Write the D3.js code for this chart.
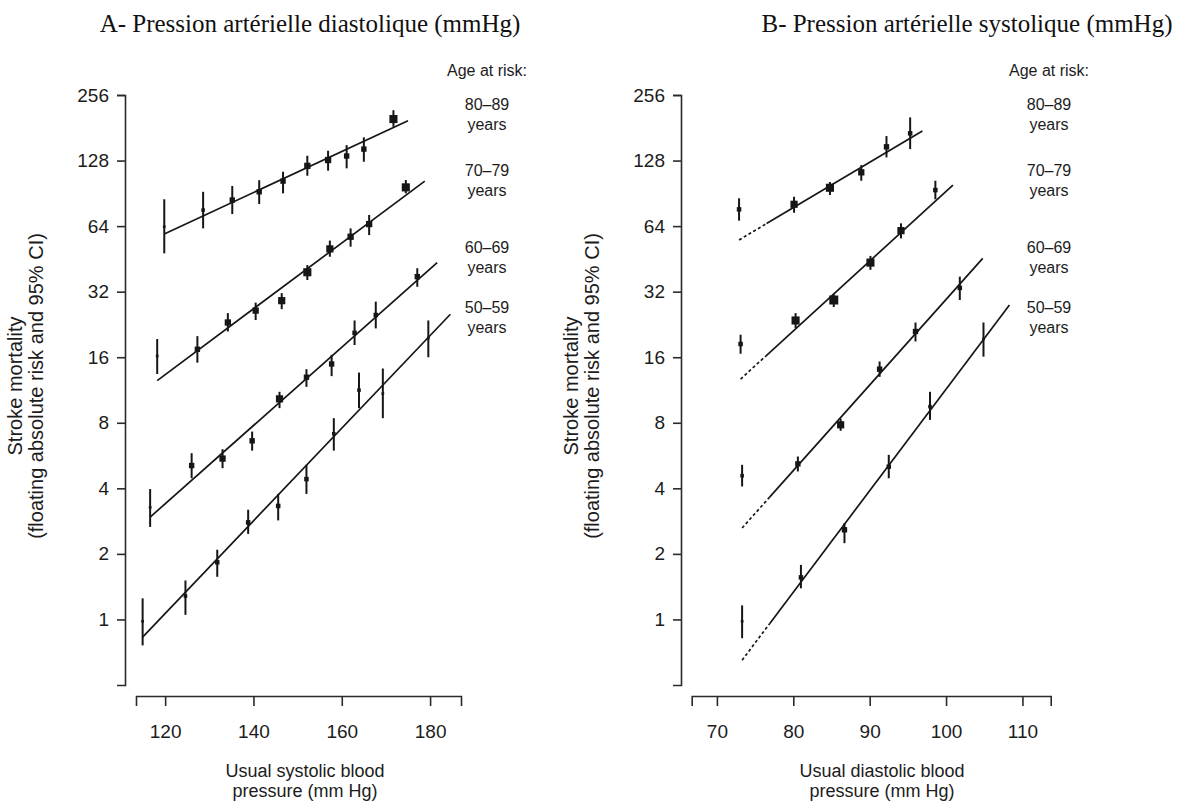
<!DOCTYPE html>
<html>
<head>
<meta charset="utf-8">
<script src="https://cdn.jsdelivr.net/npm/d3@7/dist/d3.min.js"></script>
<style>
  body { margin: 0; background: #fff; }
  text { font-family: "Liberation Sans", Arial, sans-serif; fill: #1c1c1c; }
  .title { font-family: "Liberation Serif", "Times New Roman", serif; fill: #111; }
</style>
</head>
<body>
<script>
// ---- data ----
var ageGroups = ["80–89", "70–79", "60–69", "50–59"];
var riskTicks = [1, 2, 4, 8, 16, 32, 64, 128, 256];
var sbpTicks = [120, 140, 160, 180];
var dbpTicks = [70, 80, 90, 100, 110];

// A: usual systolic blood pressure
var sbp80X    = [119.8, 128.6, 135.2, 141.3, 146.7, 152.2, 156.9, 161.1, 165.0, 171.7];
var sbp80Risk = [63.6, 75.8, 84.3, 92, 103, 121, 128.7, 134.3, 144.5, 198.5];
var sbp80Lo   = [48, 62.5, 72.7, 80.8, 90.5, 109, 115, 117.9, 126.4, 182.9];
var sbp80Hi   = [85, 92, 97.8, 104, 113.7, 134.7, 142, 150.7, 163.6, 218];
var sbp80Wt   = [2, 3, 5, 5, 5, 6, 6, 5, 5, 8];
var sbp80Fit  = [119.8, 58.9, 175.0, 195];

var sbp70X    = [118.2, 127.3, 134.2, 140.5, 146.4, 152.2, 157.3, 162.0, 166.2, 174.5];
var sbp70Risk = [16.2, 17.4, 23.1, 26.2, 29.1, 39.3, 50.3, 57.2, 65.4, 96.4];
var sbp70Lo   = [13.4, 15.1, 21.0, 23.7, 26.6, 36.2, 46.3, 51.5, 58.2, 90.5];
var sbp70Hi   = [19.4, 20.0, 25.5, 28.5, 31.5, 42.4, 54.9, 62.5, 72, 104.2];
var sbp70Wt   = [2, 5, 6, 6, 7, 8, 7, 6, 6, 8];
var sbp70Fit  = [118.2, 12.5, 178.8, 103];

var sbp60X    = [116.6, 126.0, 133.0, 139.7, 145.9, 152.0, 157.7, 162.9, 167.7, 177.1];
var sbp60Risk = [3.27, 5.09, 5.48, 6.61, 10.3, 12.95, 14.9, 20.7, 25.0, 37.5];
var sbp60Lo   = [2.66, 4.45, 4.95, 5.96, 9.34, 11.7, 13.1, 18.2, 21.7, 33.7];
var sbp60Hi   = [3.97, 5.80, 6.05, 7.29, 11.1, 14.1, 16.4, 23.6, 28.8, 41.0];
var sbp60Wt   = [2, 5, 6, 5, 7, 5, 5, 4, 4, 5];
var sbp60Fit  = [116.6, 2.95, 181.6, 43.5];

var sbp50X    = [114.9, 124.6, 131.8, 138.8, 145.6, 152.0, 158.2, 163.9, 169.3, 179.6];
var sbp50Risk = [0.98, 1.28, 1.83, 2.79, 3.32, 4.41, 7.12, 11.3, 10.9, 19.6];
var sbp50Lo   = [0.76, 1.05, 1.57, 2.47, 2.85, 3.77, 5.96, 9.34, 8.40, 16.0];
var sbp50Hi   = [1.25, 1.51, 2.09, 3.19, 3.77, 5.13, 8.40, 13.6, 14.2, 23.6];
var sbp50Wt   = [2, 3, 4, 4, 4, 4, 3, 3, 2, 2];
var sbp50Fit  = [114.9, 0.83, 184.6, 25.2];

// B: usual diastolic blood pressure (fit dashed below dashTo)
var dbp80X    = [72.9, 80.1, 84.8, 88.9, 92.2, 95.3];
var dbp80Risk = [76.4, 80.6, 96.0, 113, 148, 170.7];
var dbp80Lo   = [67.8, 73.7, 88.9, 103.4, 132.4, 144.5];
var dbp80Hi   = [85.9, 87.3, 102, 122, 165.8, 202];
var dbp80Wt   = [4, 7, 8, 6, 5, 4];
var dbp80Fit  = [72.9, 55.3, 96.9, 175];

var dbp70X    = [73.1, 80.3, 85.3, 90.1, 94.1, 98.6];
var dbp70Risk = [18.4, 23.6, 29.3, 43.5, 61.0, 93.7];
var dbp70Lo   = [16.6, 21.8, 27.2, 40.3, 56.2, 85.0];
var dbp70Hi   = [20.3, 25.5, 31.2, 46.7, 65.9, 103.4];
var dbp70Wt   = [4, 8, 9, 8, 7, 4];
var dbp70Fit  = [73.1, 12.7, 100.9, 98.8];

var dbp60X    = [73.3, 80.6, 86.2, 91.3, 96.0, 101.8];
var dbp60Risk = [4.57, 5.18, 7.83, 14.1, 21.0, 33.3];
var dbp60Lo   = [4.08, 4.78, 7.35, 13.0, 18.9, 29.3];
var dbp60Hi   = [5.13, 5.60, 8.34, 15.3, 23.1, 37.5];
var dbp60Wt   = [3, 5, 7, 5, 5, 4];
var dbp60Fit  = [73.3, 2.63, 104.8, 45.5];

var dbp50X    = [73.3, 81.0, 86.7, 92.5, 97.9, 104.9];
var dbp50Risk = [0.98, 1.56, 2.58, 5.03, 9.49, 19.4];
var dbp50Lo   = [0.82, 1.39, 2.24, 4.45, 8.25, 16.1];
var dbp50Hi   = [1.16, 1.78, 2.77, 5.70, 11.1, 23.1];
var dbp50Wt   = [2, 4, 5, 4, 3, 2];
var dbp50Fit  = [73.3, 0.65, 108.3, 27.8];

var dbpDashTo = [76.5, 76.4, 76.9, 76.9];

// ---- build tables ----
function series(xs, risk, lo, hi, wt, fit, dashTo) {
  return {
    pts: xs.map(function (d, i) { return {x: d, y: risk[i], lo: lo[i], hi: hi[i], w: wt[i]}; }),
    fit: fit, dashTo: dashTo
  };
}

var panelA = [
  series(sbp80X, sbp80Risk, sbp80Lo, sbp80Hi, sbp80Wt, sbp80Fit),
  series(sbp70X, sbp70Risk, sbp70Lo, sbp70Hi, sbp70Wt, sbp70Fit),
  series(sbp60X, sbp60Risk, sbp60Lo, sbp60Hi, sbp60Wt, sbp60Fit),
  series(sbp50X, sbp50Risk, sbp50Lo, sbp50Hi, sbp50Wt, sbp50Fit)
];
var panelB = [
  series(dbp80X, dbp80Risk, dbp80Lo, dbp80Hi, dbp80Wt, dbp80Fit, dbpDashTo[0]),
  series(dbp70X, dbp70Risk, dbp70Lo, dbp70Hi, dbp70Wt, dbp70Fit, dbpDashTo[1]),
  series(dbp60X, dbp60Risk, dbp60Lo, dbp60Hi, dbp60Wt, dbp60Fit, dbpDashTo[2]),
  series(dbp50X, dbp50Risk, dbp50Lo, dbp50Hi, dbp50Wt, dbp50Fit, dbpDashTo[3])
];

var svg = d3.select("body").append("svg")
  .attr("width", 1184)
  .attr("height", 805);

var ink = "#161616";
var sideScale = d3.scaleLinear().domain([1, 9]).range([1.8, 9]);

function drawPanel(cfg) {
  var g = svg.append("g");

  var x = d3.scaleLinear().domain(cfg.xDomain).range([cfg.xLeft, cfg.xRight]);
  var y = d3.scaleLog().base(2).domain([0.5, 256]).range([685, 95]);

  // axes
  var yAxis = g.append("g")
    .attr("transform", "translate(" + cfg.yAxisX + ",0)")
    .call(d3.axisLeft(y).tickValues(riskTicks).tickFormat(d3.format("d"))
      .tickSize(8).tickSizeOuter(8).tickPadding(8));
  var xAxis = g.append("g")
    .attr("transform", "translate(0,696)")
    .call(d3.axisBottom(x).tickValues(cfg.ticks)
      .tickSize(10).tickSizeOuter(10).tickPadding(19));

  [yAxis, xAxis].forEach(function (a) {
    a.attr("font-family", null).attr("font-size", 19);
    a.selectAll("path, line").attr("stroke", "#2a2a2a").attr("stroke-width", 1.6);
    a.selectAll("text").attr("fill", ink);
  });

  // fit lines (log-linear); optional dashed start
  cfg.data.forEach(function (s) {
    var f = s.fit;
    var lx = d3.scaleLinear().domain([f[0], f[2]]).range([Math.log2(f[1]), Math.log2(f[3])]);
    var seg = function (a, b, dash) {
      g.append("line")
        .attr("x1", x(a)).attr("y1", y(Math.pow(2, lx(a))))
        .attr("x2", x(b)).attr("y2", y(Math.pow(2, lx(b))))
        .attr("stroke", ink)
        .attr("stroke-width", 1.7)
        .attr("stroke-dasharray", dash ? "3,2.5" : null);
    };
    if (s.dashTo) {
      seg(f[0], s.dashTo, true);
      seg(s.dashTo, f[2], false);
    } else {
      seg(f[0], f[2], false);
    }

    // confidence intervals
    g.selectAll(null).data(s.pts).enter().append("line")
      .attr("x1", function (d) { return x(d.x); })
      .attr("x2", function (d) { return x(d.x); })
      .attr("y1", function (d) { return y(d.lo); })
      .attr("y2", function (d) { return y(d.hi); })
      .attr("stroke", ink)
      .attr("stroke-width", 2);

    // squares sized by weight
    g.selectAll(null).data(s.pts).enter().append("rect")
      .attr("x", function (d) { return x(d.x) - sideScale(d.w) / 2; })
      .attr("y", function (d) { return y(d.y) - sideScale(d.w) / 2; })
      .attr("width", function (d) { return sideScale(d.w); })
      .attr("height", function (d) { return sideScale(d.w); })
      .attr("fill", ink);
  });

  // titles
  svg.append("text").attr("class", "title")
    .attr("x", cfg.titleX).attr("y", 32)
    .attr("text-anchor", "middle")
    .attr("font-size", 25)
    .text(cfg.title);

  var xl = svg.append("text")
    .attr("text-anchor", "middle")
    .attr("font-size", 18);
  xl.append("tspan").attr("x", cfg.xTitleX).attr("y", 777).text(cfg.xTitle[0]);
  xl.append("tspan").attr("x", cfg.xTitleX).attr("y", 797).text(cfg.xTitle[1]);

  var yl = svg.append("text")
    .attr("text-anchor", "middle")
    .attr("font-size", 20)
    .attr("transform", "translate(" + (cfg.yAxisX - 103) + ",386) rotate(-90)");
  yl.append("tspan").attr("x", 0).attr("y", 0).text("Stroke mortality");
  yl.append("tspan").attr("x", 0).attr("y", 21).text("(floating absolute risk and 95% CI)");

  // age labels
  var lg = svg.append("g").attr("font-size", 16).attr("text-anchor", "middle");
  lg.append("text").attr("x", cfg.legendX).attr("y", 76).text("Age at risk:");
  var ageY = [110, 176, 253, 313];
  ageGroups.forEach(function (a, i) {
    lg.append("text").attr("x", cfg.legendX).attr("y", ageY[i]).text(a);
    lg.append("text").attr("x", cfg.legendX).attr("y", ageY[i] + 20).text("years");
  });
}

drawPanel({
  title: "A- Pression artérielle diastolique (mmHg)",
  titleX: 310,
  xDomain: [113.4, 187], xLeft: 136, xRight: 461,
  yAxisX: 125, ticks: sbpTicks,
  xTitle: ["Usual systolic blood", "pressure (mm Hg)"], xTitleX: 305,
  legendX: 487,
  data: panelA
});

drawPanel({
  title: "B- Pression artérielle systolique (mmHg)",
  titleX: 967,
  xDomain: [66.7, 113.7], xLeft: 691.7, xRight: 1050.7,
  yAxisX: 681, ticks: dbpTicks,
  xTitle: ["Usual diastolic blood", "pressure (mm Hg)"], xTitleX: 882,
  legendX: 1049,
  data: panelB
});
</script>
</body>
</html>
